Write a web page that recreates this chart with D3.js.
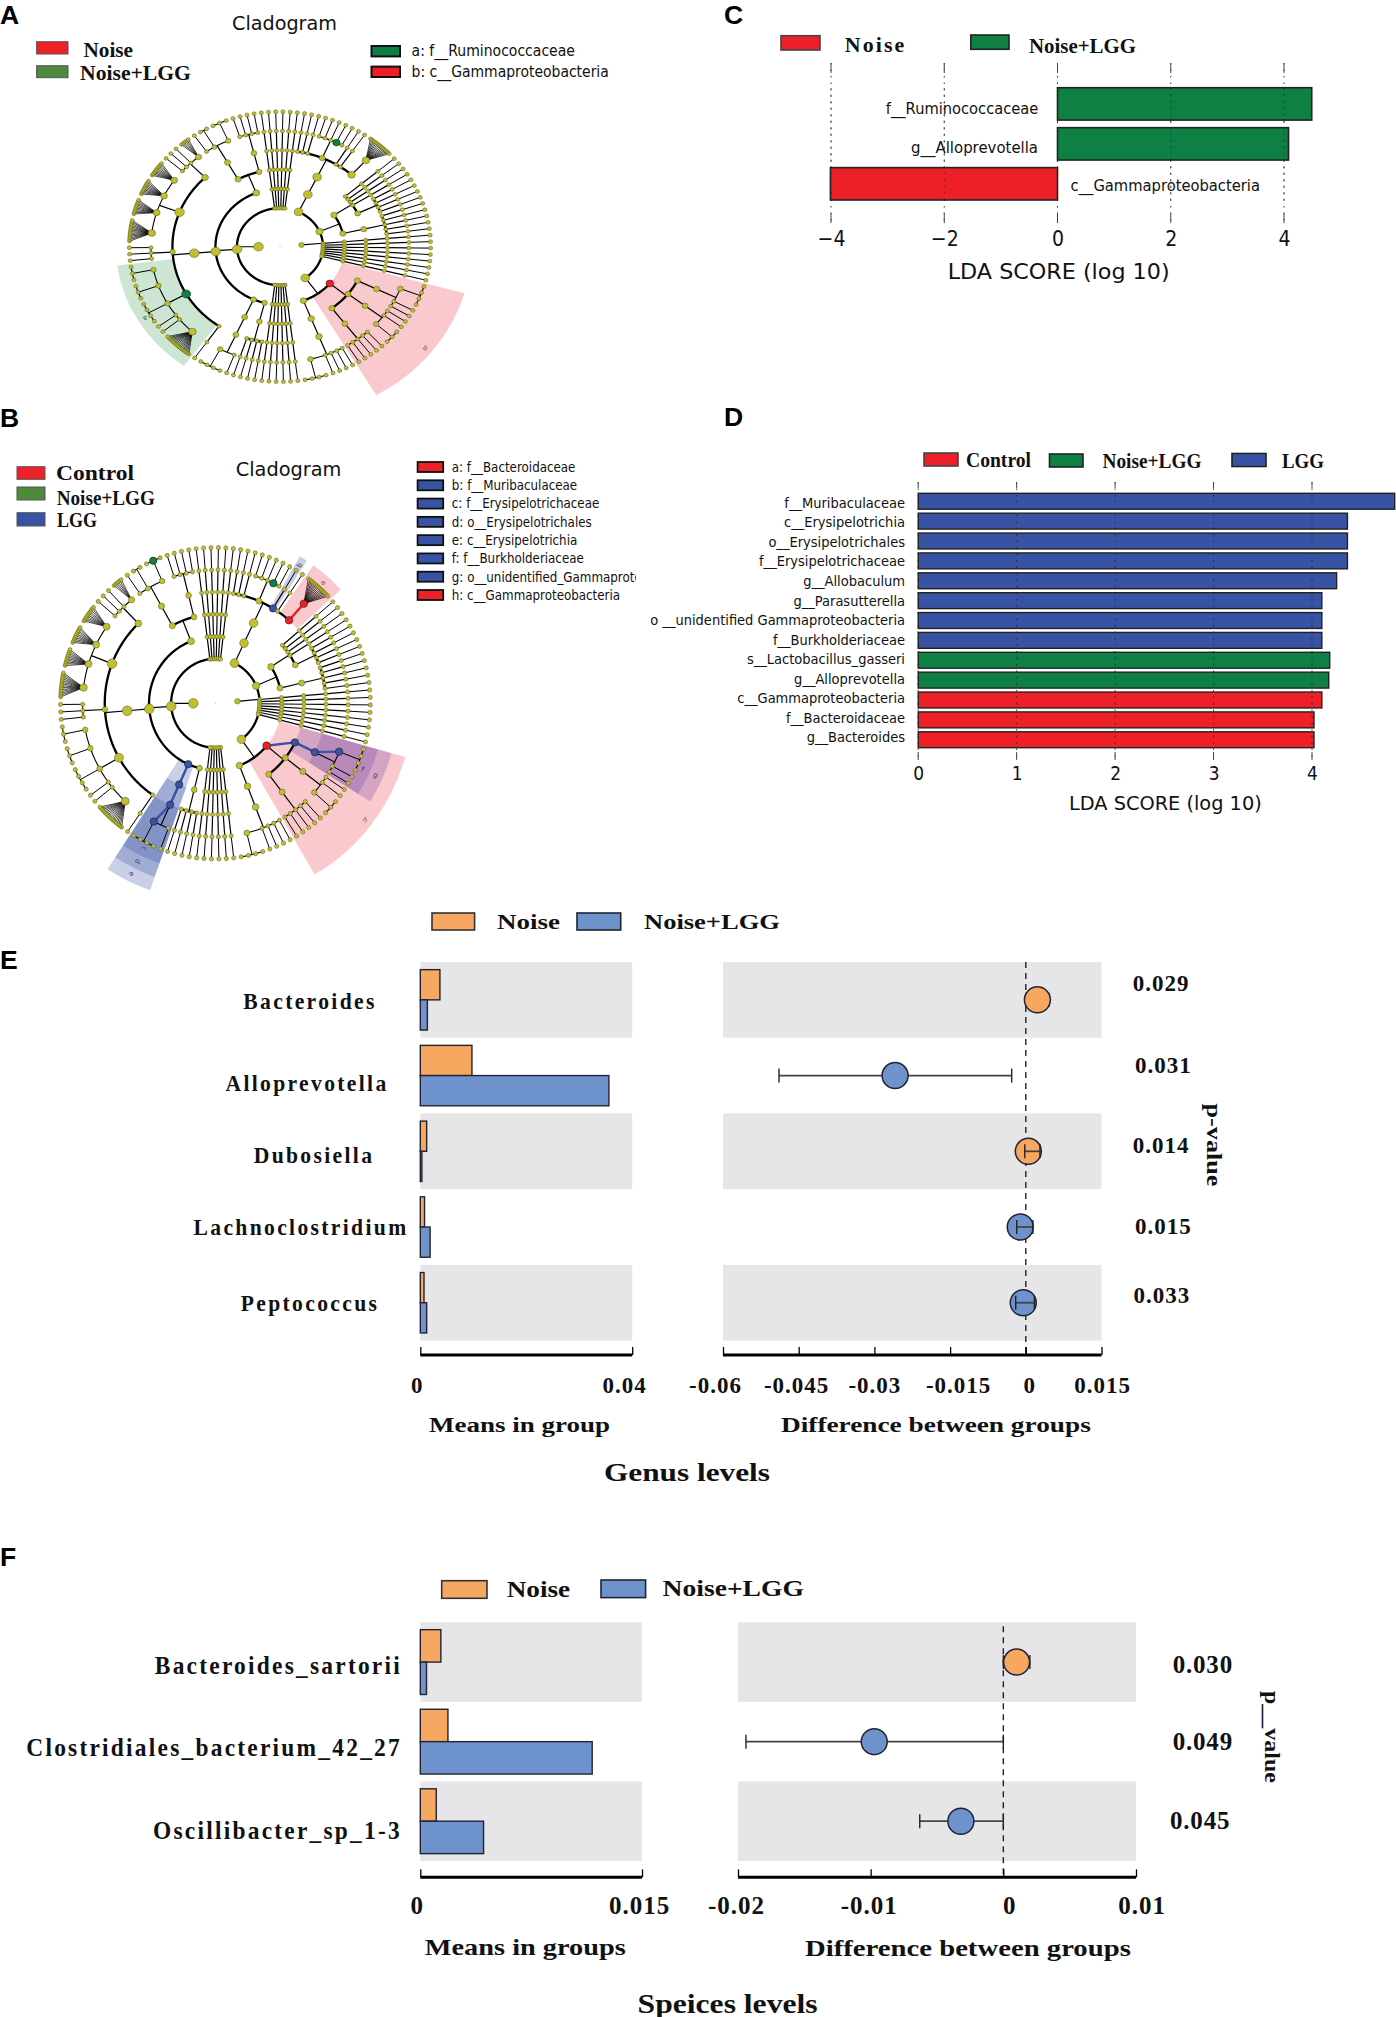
<!DOCTYPE html>
<html><head><meta charset="utf-8">
<script src="https://cdn.jsdelivr.net/npm/d3@7"></script>
<style>html,body{margin:0;padding:0;background:#fff}svg{display:block}</style>
</head><body><svg id="c" width="1396" height="2017" viewBox="0 0 1396 2017"></svg>
<script>
// ---------- DATA ----------
const cCats = ["f__Ruminococcaceae","g__Alloprevotella","c__Gammaproteobacteria"];
const cValues = [4.49,4.08,-4.01];
const cGroups = ["Noise+LGG","Noise+LGG","Noise"];
const cTicks = [-4,-2,0,2,4];

const dCats = ["f__Muribaculaceae","c__Erysipelotrichia","o__Erysipelotrichales","f__Erysipelotrichaceae","g__Allobaculum","g__Parasutterella","o __unidentified Gammaproteobacteria","f__Burkholderiaceae","s__Lactobacillus_gasseri","g__Alloprevotella","c__Gammaproteobacteria","f__Bacteroidaceae","g__Bacteroides"];
const dValues = [4.84,4.36,4.36,4.36,4.25,4.10,4.10,4.10,4.18,4.17,4.10,4.02,4.02];
const dGroups = ["LGG","LGG","LGG","LGG","LGG","LGG","LGG","LGG","Noise+LGG","Noise+LGG","Control","Control","Control"];
const dTicks = [0,1,2,3,4];

const eGenus = ["Bacteroides","Alloprevotella","Dubosiella","Lachnoclostridium","Peptococcus"];
const eNoise = [0.0037,0.00975,0.0012,0.0008,0.0007];
const eNoiseLGG = [0.00134,0.0356,0.0003,0.00185,0.0012];
const eDiff = [0.0023,-0.0259,0.0005,-0.0011,-0.0005];
const eLo = [0.0000,-0.0489,-0.0002,-0.0018,-0.0020];
const eHi = [0.0046,-0.0028,0.0028,0.0014,0.0017];
const eP = ["0.029","0.031","0.014","0.015","0.033"];

const fSpecies = ["Bacteroides_sartorii","Clostridiales_bacterium_42_27","Oscillibacter_sp_1-3"];
const fNoise = [0.00139,0.00187,0.00108];
const fNoiseLGG = [0.00042,0.01163,0.00428];
const fDiff = [0.001,-0.00973,-0.0032];
const fLo = [0,-0.0194,-0.0063];
const fHi = [0.002,0,0];
const fP = ["0.030","0.049","0.045"];

const legendA = ["a: f__Ruminococcaceae","b: c__Gammaproteobacteria"];
const legendB = ["a: f__Bacteroidaceae","b: f__Muribaculaceae","c: f__Erysipelotrichaceae","d: o__Erysipelotrichales","e: c__Erysipelotrichia","f: f__Burkholderiaceae","g: o__unidentified_Gammaproteobacteria","h: c__Gammaproteobacteria"];

// Cladogram topology: a number = that many unbranched lineages, an array = a branching clade,
// {fan:n} = a genus with n species, {k:..} = a named taxon.
const cladeBacteroidales = [[[[3,[1,1,1,{k:"Alloprevotella"},1],{k:"Muribaculaceae"},1,{k:"Bacteroidaceae",c:[{k:"Bacteroides",fan:15}]}]]]];
const cladeUpperRight = [[[4,[4]],[[3,2]]]];
const cladeRightBundle = [8];
const cladeGamma = {k:"Gammaproteobacteria",c:[
  {k:"unidentified_Gammaproteobacteria",c:[{k:"Burkholderiaceae",c:[{k:"Parasutterella",c:[1,1,1,1]},1,1]}]},
  [[2,[3]]],
  [[3,2]]]};
const cladeLowerRight = [cladeGamma,[[[4,[4]]]]];
const cladeRightPhylum = [...cladeBacteroidales,...cladeUpperRight,...cladeRightBundle,cladeLowerRight];
const cladeErysipelotrichia = {k:"Erysipelotrichia",c:[{k:"Erysipelotrichales",c:[{k:"Erysipelotrichaceae",c:[1,{k:"Allobaculum",c:[1,1,1,1]}]}]}]};
const cladeRuminococcaceae = {k:"Ruminococcaceae",c:[{fan:17},2,[4],[3],[3]]};
const cladeClostridia = [[1,cladeRuminococcaceae,[3],[{fan:14},{fan:10},{fan:10},{fan:10}],[3,{fan:6}]]];
const cladeLactobacilli = [[[1,[1,1],[1,{k:"Lactobacillus_gasseri"},1]]],[[2,2]]];
const cladeLeftPhylum = [6,[[[4]],cladeErysipelotrichia,cladeClostridia,cladeLactobacilli],6];

const panelATaxa = [
 {k:"Ruminococcaceae",group:"green",letter:"a",band:true},
 {k:"Gammaproteobacteria",group:"red",letter:"b",band:true},
 {k:"Alloprevotella",group:"green"}];
const panelBTaxa = [
 {k:"Bacteroidaceae",group:"red",letter:"a",band:true},{k:"Bacteroides",group:"red"},
 {k:"Muribaculaceae",group:"blue",letter:"b",band:true},
 {k:"Erysipelotrichaceae",group:"blue",letter:"c",band:true},
 {k:"Erysipelotrichales",group:"blue",letter:"d",band:true},
 {k:"Erysipelotrichia",group:"blue",letter:"e",band:true},{k:"Allobaculum",group:"blue"},
 {k:"Burkholderiaceae",group:"blue",letter:"f",band:true,over:true},
 {k:"unidentified_Gammaproteobacteria",group:"blue",letter:"g",band:true,over:true},{k:"Parasutterella",group:"blue"},
 {k:"Gammaproteobacteria",group:"red",letter:"h",band:true},
 {k:"Alloprevotella",group:"green"},{k:"Lactobacillus_gasseri",group:"green"}];

// ---------- STYLE ----------
const SANS="'DejaVu Sans'", SERIF="'Liberation Serif'", BOLD="'Liberation Sans'";
const RED="#EE2027",GREEN="#0F8043",BLUE="#3953A4",OLIVE="#4F8A3C",ORANGE="#F6A860",STEEL="#6E93CC",GRAY="#E6E6E8",NODE="#BFBF30";
const svg=d3.select("#c");

function T(g,x,y,str,o={}){
  const t=g.append("text").text(str)
    .attr("font-family",o.font||SANS).attr("font-size",o.size||14)
    .attr("font-weight",o.weight||"normal").attr("text-anchor",o.anchor||"start")
    .attr("dy",".35em").attr("fill",o.fill||"#111");
  if(o.ls) t.attr("letter-spacing",o.ls);
  let sx=o.sx||1;
  if(o.w){ sx=o.w/t.node().getComputedTextLength(); }
  t.attr("transform",`translate(${x},${y})`+(o.rot?` rotate(${o.rot})`:"")+` scale(${sx},1)`);
  return t;
}
function box(g,x,y,w,h,fill,stroke,sw){
  g.append("rect").attr("x",x).attr("y",y).attr("width",w).attr("height",h).attr("fill",fill).attr("stroke",stroke||"#222").attr("stroke-width",sw||1.6);
}
const serifB=(size,extra={})=>Object.assign({font:SERIF,weight:"bold",size},extra);

// panel letters
[["A",0,15],["B",0,418],["C",724,15],["D",724,417],["E",0,960],["F",0,1557]].forEach(([s,x,y])=>
  T(svg,x,y,s,{font:BOLD,weight:"bold",size:26,sx:1.02,fill:"#000"}));

// ---------- CLADOGRAMS ----------
const LEVELS=7;
function chain(d){return d>=LEVELS?{}:{children:[chain(d+1)]};}
function expand(s,d){
  if(typeof s==="number") return d3.range(s).map(()=>chain(d));
  if(Array.isArray(s)) return [{children:s.flatMap(c=>expand(c,d+1))}];
  if(s.fan){
    if(d<LEVELS-1) return [{k:s.k,children:expand({fan:s.fan},d+1)}];
    return [{k:s.k,children:d3.range(s.fan).map(()=>({fanLeaf:true}))}];
  }
  const n=s.c?{k:s.k,children:s.c.flatMap(c=>expand(c,d+1))}:Object.assign(chain(d),{k:s.k});
  return [n];
}
const treeRoot={children:[{k:"rightPhylum",children:cladeRightPhylum.flatMap(c=>expand(c,2))},
                          {k:"leftPhylum",children:cladeLeftPhylum.flatMap(c=>expand(c,2))}]};
const START=8;
const hier=d3.hierarchy(treeRoot);
const sep=(a,b)=>(a.data.fanLeaf&&b.data.fanLeaf&&a.parent===b.parent)?0.25:1;
d3.cluster().size([360,1]).separation(sep)(hier);
hier.eachAfter(n=>{ n.ang=n.children?(n.children[0].ang+n.children[n.children.length-1].ang)/2:n.x+START; });
const slot=360/hier.leaves().reduce((s,l,i,a)=>s+(i?sep(a[i-1],l):1),0);
const radial=d3.scaleLinear().domain([0,LEVELS]).range([0,1]);
const rad=d=>d*Math.PI/180;

function cladogram(cx,cy,rx,ry,taxa){
  const g=svg.append("g");
  const px=(lv,a)=>cx+rx*radial(lv)*Math.sin(rad(a));
  const py=(lv,a)=>cy-ry*radial(lv)*Math.cos(rad(a));
  const col={red:RED,green:GREEN,blue:BLUE};
  const byKey=new Map(); hier.each(n=>{if(n.data.k)byKey.set(n.data.k,n);});
  const tax=new Map(taxa.map(t=>[t.k,t]));
  const bands=taxa.filter(t=>t.band).map(t=>({t,n:byKey.get(t.k)}));
  const arc=d3.arc();
  const sg=g.append("g").attr("transform",`translate(${cx},${cy}) scale(${rx},${ry})`);
  bands.sort((a,b)=>(a.t.group==="red"?0:1)-(b.t.group==="red"?0:1)||a.n.depth-b.n.depth).forEach(({t,n})=>{
    const ls=n.leaves();
    const a0=ls[0].ang-slot/2, a1=ls[ls.length-1].ang+slot/2;
    const inner=radial(n.depth), outer=1.09+(5-n.depth)*0.0915;
    sg.append("path").attr("d",arc({innerRadius:inner,outerRadius:outer,startAngle:rad(a0),endAngle:rad(a1)}))
      .attr("fill",t.group==="red"?"#F9C9CD":t.group==="green"?"#CDE5D3":t.over?"#7846AA":BLUE)
      .attr("fill-opacity",t.group==="blue"?0.28:1);
    const m=(a0+a1)/2, rr=outer-0.05;
    g.append("text").text(t.letter).attr("font-size",7).attr("font-family",SANS).attr("text-anchor","middle").attr("dy",".35em")
      .attr("fill",t.group==="red"?"#A03040":t.group==="green"?"#2E6B45":"#33307A")
      .attr("transform",`translate(${cx+rx*rr*Math.sin(rad(m))},${cy-ry*rr*Math.cos(rad(m))}) rotate(${m-90})`);
  });
  const line=d3.line().x(d=>d[0]).y(d=>d[1]);
  const links=g.append("g").attr("fill","none").attr("stroke","#000");
  hier.each(n=>{
    if(!n.children||n.depth===0) return;
    const lv=n.depth+1;
    if(n.children[0].data.fanLeaf){
      n.children.forEach(c=>links.append("line").attr("x1",px(n.depth,n.ang)).attr("y1",py(n.depth,n.ang)).attr("x2",px(lv,c.ang)).attr("y2",py(lv,c.ang)).attr("stroke-width",0.7));
      return;
    }
    links.append("line").attr("x1",px(n.depth,n.ang)).attr("y1",py(n.depth,n.ang)).attr("x2",px(lv,n.ang)).attr("y2",py(lv,n.ang)).attr("stroke-width",lv<=6?1.2:1);
    const as=n.children.map(c=>c.ang).concat(n.ang);
    const lo=d3.min(as),hi=d3.max(as);
    if(hi-lo>0.01){
      const pts=d3.range(lo,hi,0.8).concat(hi).map(a=>[px(lv,a),py(lv,a)]);
      links.append("path").attr("d",line(pts)).attr("stroke-width",lv<=5?2.3:1.1);
    }
  });
  hier.each(n=>{
    if(n.parent&&tax.has(n.data.k)&&tax.has(n.parent.data.k)){
      g.append("line").attr("x1",px(n.parent.depth,n.parent.ang)).attr("y1",py(n.parent.depth,n.parent.ang)).attr("x2",px(n.depth,n.ang)).attr("y2",py(n.depth,n.ang))
       .attr("stroke",col[tax.get(n.data.k).group]).attr("stroke-width",2.4);
    }
  });
  const ng=g.append("g");
  hier.descendants().filter(n=>n.depth>0).forEach(n=>{
    const t=tax.get(n.data.k);
    let r=Math.min(4.8,2.1+0.45*Math.sqrt(n.leaves().length-1));
    if(n.data.fanLeaf) r=1.9;
    if(n.data.k==="rightPhylum") r=2.7;
    if(t) r=Math.max(r,3.7);
    ng.append("ellipse").attr("cx",px(n.depth,n.ang)).attr("cy",py(n.depth,n.ang)).attr("rx",r).attr("ry",r*ry/rx)
      .attr("fill",t?col[t.group]:NODE).attr("stroke",t?"#111":"#55551a").attr("stroke-width",0.5);
  });
  g.append("circle").attr("cx",cx).attr("cy",cy).attr("r",0.8).attr("fill","#dddd88");
}
cladogram(280,246.7,150.6,135,panelATaxa);
cladogram(215.4,703.3,154.9,155.7,panelBTaxa);

// A text
T(svg,232,22.7,"Cladogram",{size:20,w:105});
box(svg,36.6,41.7,31.4,12.3,RED,"#555",1);
T(svg,83.5,49,"Noise",serifB(22,{w:49.5}));
box(svg,36.6,65.7,31.4,12,OLIVE,"#555",1);
T(svg,80,72.7,"Noise+LGG",serifB(22,{w:111}));
[GREEN,RED].forEach((c,i)=>box(svg,371.5,46+i*20.6,28.5,10.4,c,"#111",2));
T(svg,411.6,51,legendA[0],{size:15,w:163.4});
T(svg,411.6,71.7,legendA[1],{size:15,w:197.4});
// B text
T(svg,235.7,469,"Cladogram",{size:20,w:105.8});
box(svg,17,466.7,28,12.6,RED,"#555",1);
T(svg,56,473,"Control",serifB(20,{w:78}));
box(svg,17,487,28,13,OLIVE,"#555",1);
T(svg,56.7,498,"Noise+LGG",serifB(20,{w:98.3}));
box(svg,17,512.7,28,13.3,BLUE,"#555",1);
T(svg,57,520,"LGG",serifB(20,{w:40}));
svg.append("clipPath").attr("id","lgclip").append("rect").attr("x",440).attr("y",450).attr("width",196).attr("height",170);
const lgB=svg.append("g").attr("clip-path","url(#lgclip)");
const lgCol=[RED,BLUE,BLUE,BLUE,BLUE,BLUE,BLUE,RED];
const lgY=d3.scalePoint().domain(legendB).range([467,595]);
legendB.forEach((s,i)=>{
  box(svg,417.6,lgY(s)-5,25.6,10,lgCol[i],"#111",1.8);
  T(lgB,451.8,lgY(s),s,{size:14,sx:0.85});
});

// ---------- PANEL C ----------
(function(){
  const g=svg.append("g");
  const x=d3.scaleLinear().domain([-4,4]).range([831,1284]);
  const y=d3.scaleBand().domain(cCats).range([87.7,200]).paddingInner(0.19);
  const col={Noise:RED,"Noise+LGG":GREEN};
  cTicks.forEach(t=>{
    g.append("line").attr("x1",x(t)).attr("x2",x(t)).attr("y1",63).attr("y2",223).attr("stroke","#333").attr("stroke-width",1).attr("stroke-dasharray","1.5 5");
    [[63,73],[213,223]].forEach(([a,b])=>g.append("line").attr("x1",x(t)).attr("x2",x(t)).attr("y1",a).attr("y2",b).attr("stroke","#444").attr("stroke-width",1));
  });
  g.selectAll("rect.b").data(cCats).join("rect").attr("class","b")
    .attr("x",(d,i)=>x(Math.min(0,cValues[i]))).attr("width",(d,i)=>Math.abs(x(cValues[i])-x(0)))
    .attr("y",d=>y(d)).attr("height",y.bandwidth())
    .attr("fill",(d,i)=>col[cGroups[i]]).attr("stroke","#222").attr("stroke-width",1.6);
  cTicks.forEach(t=>g.append("line").attr("x1",x(t)).attr("x2",x(t)).attr("y1",88).attr("y2",200).attr("stroke","#222").attr("stroke-width",0.8).attr("stroke-dasharray","1.5 5"));
  const ax=g.append("g").attr("transform","translate(0,230)").call(d3.axisBottom(x).tickValues(cTicks).tickSize(0).tickPadding(0));
  ax.select(".domain").remove();
  ax.selectAll("text").attr("font-family",SANS).attr("font-size",22).attr("fill","#111").attr("y",0).attr("dy",".71em").attr("transform","scale(.86,1)");
  T(g,1038.3,109,cCats[0],{size:15.5,w:152.7,anchor:"end"});
  T(g,1038,147.7,cCats[1],{size:15.5,w:127,anchor:"end"});
  T(g,1070.6,186,cCats[2],{size:15.5,w:189.5});
  T(g,947.7,271.7,"LDA SCORE (log 10)",{size:22,w:222});
  box(g,781,35.7,39,14.3,RED,"#444",1.6);
  T(g,844.7,44.3,"Noise",serifB(21,{w:61.7,ls:2}));
  box(g,970.8,35,38.2,14.3,GREEN,"#222",1.6);
  T(g,1029,45.7,"Noise+LGG",serifB(22,{w:107}));
})();

// ---------- PANEL D ----------
(function(){
  const g=svg.append("g");
  const x=d3.scaleLinear().domain([0,4]).range([918.2,1312]);
  const y=d3.scaleBand().domain(dCats).range([493.3,747.7]).paddingInner(0.2);
  const col={Control:RED,"Noise+LGG":GREEN,LGG:BLUE};
  g.selectAll("rect.b").data(dCats).join("rect").attr("class","b")
    .attr("x",x(0)).attr("width",(d,i)=>x(dValues[i])-x(0)).attr("y",d=>y(d)).attr("height",y.bandwidth())
    .attr("fill",(d,i)=>col[dGroups[i]]).attr("stroke","#222").attr("stroke-width",1.4);
  dTicks.forEach(t=>{
    g.append("line").attr("x1",x(t)).attr("x2",x(t)).attr("y1",482).attr("y2",760).attr("stroke","#222").attr("stroke-width",0.9).attr("stroke-dasharray","1.5 5");
    [[482,488],[752,760]].forEach(([a,b])=>g.append("line").attr("x1",x(t)).attr("x2",x(t)).attr("y1",a).attr("y2",b).attr("stroke","#444").attr("stroke-width",1));
  });
  const ax=g.append("g").attr("transform","translate(0,766)").call(d3.axisBottom(x).tickValues(dTicks).tickFormat(d3.format("d")).tickSize(0).tickPadding(0));
  ax.select(".domain").remove();
  ax.selectAll("text").attr("font-family",SANS).attr("font-size",20).attr("fill","#111").attr("y",0).attr("dy",".71em").attr("transform","scale(.85,1)");
  const labelDrift=d3.scaleLinear().domain([0,dCats.length-1]).range([1.5,-2.5]);
  dCats.forEach((d,i)=>T(g,905,y(d)+y.bandwidth()/2+labelDrift(i),d,{size:14.5,sx:.9,anchor:"end"}));
  T(g,1069,803,"LDA SCORE (log 10)",{size:20,w:193});
  box(g,924,453,34,13,RED,"#444",1.6);
  T(g,966,460,"Control",serifB(20,{w:65}));
  box(g,1049.5,454,33.5,13,GREEN,"#222",1.6);
  T(g,1102.5,461,"Noise+LGG",serifB(20,{w:99}));
  box(g,1232,453.5,34,13,BLUE,"#222",1.6);
  T(g,1282,461,"LGG",serifB(20,{w:42}));
})();

// ---------- PANELS E / F ----------
function stamp(o){
  const g=svg.append("g");
  const rows=d3.scaleBand().domain(o.cats).range(o.rowRange);
  const inner=d3.scaleBand().domain(["Noise","Noise+LGG"]);
  const h=o.barH*2, off=(rows.bandwidth()-h)/2; inner.range([off,off+h]);
  const xL=d3.scaleLinear().domain([0,o.meanMax]).range(o.xLRange);
  const xR=d3.scaleLinear().domain(o.diffDomain).range(o.xRRange);
  o.cats.forEach((c,i)=>{ if(i%2===0){
    [xL,xR].forEach(s=>g.append("rect").attr("x",s.range()[0]).attr("width",s.range()[1]-s.range()[0]).attr("y",rows(c)).attr("height",rows.bandwidth()).attr("fill",GRAY));
  }});
  [[o.noise,"Noise",ORANGE],[o.lgg,"Noise+LGG",STEEL]].forEach(([vals,k,col])=>{
    g.selectAll(null).data(o.cats).join("rect")
      .attr("x",xL(0)).attr("width",(d,i)=>xL(vals[i])-xL(0)).attr("y",d=>rows(d)+inner(k)).attr("height",inner.bandwidth())
      .attr("fill",col).attr("stroke","#223").attr("stroke-width",1.4);
  });
  g.append("line").attr("x1",xR(0)).attr("x2",xR(0)).attr("y1",o.rowRange[0]+o.dashTop).attr("y2",o.axisY).attr("stroke","#222").attr("stroke-width",1.4).attr("stroke-dasharray","6 5");
  o.cats.forEach((c,i)=>{
    const cy=rows(c)+rows.bandwidth()/2, col=o.diff[i]>=0?ORANGE:STEEL;
    const ci=()=>{
      g.append("line").attr("x1",xR(o.lo[i])).attr("x2",xR(o.hi[i])).attr("y1",cy).attr("y2",cy).attr("stroke","#444").attr("stroke-width",1.8);
      [o.lo[i],o.hi[i]].forEach(v=>g.append("line").attr("x1",xR(v)).attr("x2",xR(v)).attr("y1",cy-7).attr("y2",cy+7).attr("stroke","#222").attr("stroke-width",1.4));
    };
    if(!o.ciTop[i]) ci();
    g.append("circle").attr("cx",xR(o.diff[i])).attr("cy",cy).attr("r",13).attr("fill",col).attr("stroke","#223").attr("stroke-width",1.5);
    if(o.ciTop[i]) ci();
    T(g,o.xLabel(i),o.labelY[i],c,serifB(o.labelSize,{anchor:o.labelAnchor,ls:o.labelLs,sx:0.9}));
    T(g,o.pX[i],o.pY[i],o.p[i],serifB(o.pSize,{ls:o.pLs}));
  });
  const axis=(s,vals,labs,nudges)=>{
    const ax=g.append("g").attr("transform",`translate(0,${o.axisY})`).call(
      d3.axisBottom(s).tickValues(vals).tickSizeOuter(0).tickSizeInner(-8).tickPadding(0).tickFormat((d,i)=>labs[i]));
    ax.select(".domain").attr("stroke","#000").attr("stroke-width",3).attr("d",`M${s.range()[0]},0H${s.range()[1]}`);
    ax.selectAll(".tick line").attr("stroke","#000").attr("stroke-width",1.3);
    ax.selectAll("text").attr("font-family",SERIF).attr("font-weight","bold").attr("font-size",o.tickSize).attr("letter-spacing",o.tickLs).attr("fill","#111")
      .attr("y",o.tickY-o.axisY).attr("dy",".35em").attr("x",(d,i)=>nudges[i]);
  };
  axis(xL,o.meanTicks,o.meanLabs,o.meanNudge);
  axis(xR,o.diffTicks,o.diffLabs,o.diffNudge);
  T(g,o.xt1[0],o.xt1[1],o.xt1[2],serifB(o.xtSize,{w:o.xt1[3]}));
  T(g,o.xt2[0],o.xt2[1],o.xt2[2],serifB(o.xtSize,{w:o.xt2[3]}));
  T(g,o.title[0],o.title[1],o.title[2],serifB(o.xtSize+4,{w:o.title[3]}));
  T(g,o.pt[0],o.pt[1],o.pt[2],serifB(22,{w:o.pt[3],rot:90,anchor:"middle"}));
  const L=o.leg;
  box(g,L.a[0],L.a[1],L.a[2],L.a[3],ORANGE,"#333",1.6);
  T(g,L.t1[0],L.t1[1],"Noise",serifB(o.xtSize,{w:L.t1[2]}));
  box(g,L.b[0],L.b[1],L.b[2],L.b[3],STEEL,"#223",1.6);
  T(g,L.t2[0],L.t2[1],"Noise+LGG",serifB(o.xtSize,{w:L.t2[2]}));
}
stamp({cats:eGenus,noise:eNoise,lgg:eNoiseLGG,diff:eDiff,lo:eLo,hi:eHi,p:eP,ciTop:[0,0,1,1,1],
  rowRange:[962,1340.6],barH:30.2,meanMax:0.04,xLRange:[420.3,632.2],diffDomain:[-0.06,0.015],xRRange:[723,1101.5],
  axisY:1355,tickY:1385,dashTop:0,
  xLabel:i=>[310,307,314,301,310][i],labelY:[1000.5,1082.6,1154.6,1226.6,1303],labelSize:24,labelAnchor:"middle",labelLs:2.6,
  pX:[1132.7,1135,1132.7,1135,1133.5],pY:[983.4,1065,1144.9,1225.8,1294.7],pSize:23,pLs:1,
  meanTicks:[0,0.04],meanLabs:["0","0.04"],meanNudge:[-3.5,-8],
  diffTicks:[-0.06,-0.045,-0.03,-0.015,0,0.015],diffLabs:["-0.06","-0.045","-0.03","-0.015","0","0.015"],diffNudge:[-8,-2.6,0,8,3.5,0.5],
  tickSize:23,tickLs:1,xtSize:22,
  xt1:[429,1424,"Means in group",181],xt2:[781,1424,"Difference between groups",310],title:[604,1471.7,"Genus levels",166],
  pt:[1215,1145,"p-value",83],
  leg:{a:[432,913,42.6,17],t1:[497,921,63],b:[577,913,43.7,17],t2:[644,921,136]}});
stamp({cats:fSpecies,noise:fNoise,lgg:fNoiseLGG,diff:fDiff,lo:fLo,hi:fHi,p:fP,ciTop:[0,0,0],
  rowRange:[1622.3,1861],barH:32.4,meanMax:0.015,xLRange:[420.3,642],diffDomain:[-0.02,0.01],xRRange:[738,1136],
  axisY:1877.3,tickY:1905.7,dashTop:4,
  xLabel:i=>402,labelY:[1665,1746.7,1830],labelSize:26,labelAnchor:"end",labelLs:2.5,
  pX:[1172.7,1172.7,1170],pY:[1664,1741,1820],pSize:25,pLs:0.8,
  meanTicks:[0,0.015],meanLabs:["0","0.015"],meanNudge:[-3.5,-3],
  diffTicks:[-0.02,-0.01,0,0.01],diffLabs:["-0.02","-0.01","0","0.01"],diffNudge:[-2,-2,6,5.5],
  tickSize:25,tickLs:1,xtSize:24,
  xt1:[424.8,1947,"Means in groups",201],xt2:[805,1948,"Difference between groups",326],title:[637.6,2003,"Speices levels",180],
  pt:[1273,1737,"p__value",92],
  leg:{a:[441.7,1580.7,45.3,17.6],t1:[506.7,1589,63.5],b:[601,1580,44.6,17.6],t2:[662.5,1588,141.5]}});
</script></body></html>
